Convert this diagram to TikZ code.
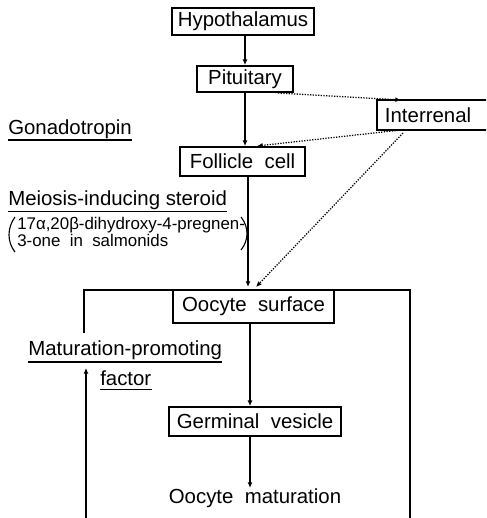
\documentclass[tikz,border=0pt]{standalone}
\usepackage{fontspec}
\setmainfont{Liberation Sans}
\usetikzlibrary{arrows.meta}

\begin{document}
\begin{tikzpicture}[x=0.025cm, y=-0.025cm,
  font=\fontsize{14.5}{17}\selectfont,
  box/.style={draw, line width=1.3pt, inner sep=0pt},
  arr/.style={-{Latex[length=4pt,width=3.5pt]}, line width=1.3pt},
  dotarr/.style={densely dotted, -{Latex[length=4pt,width=3.5pt]}, line width=0.9pt},
  lab/.style={anchor=base west, inner sep=0pt},
  ul/.style={line width=0.9pt}]
  \useasboundingbox (0, 0) rectangle (486, 518);
  \clip (0, 0) rectangle (486, 518);

  % boxes
  \node[box, minimum width=3.55cm, minimum height=0.675cm] (hyp) at (243, 21.5) {Hypothalamus};
  \node[box, minimum width=2.4cm, minimum height=0.65cm] (pit) at (245, 79) {Pituitary};
  \node[box, minimum width=3.1cm, minimum height=0.75cm, text width=2.7cm] (intr) at (439, 115) {Interrenal};
  \node[box, minimum width=3.125cm, minimum height=0.725cm] (fol) at (242.5, 161.5) {Follicle\ \ cell};
  \node[box, minimum width=4.025cm, minimum height=0.825cm] (osf) at (253.5, 306.5) {Oocyte\ \ surface};
  \node[box, minimum width=4.3cm, minimum height=0.725cm] (gv) at (255, 421.5) {Germinal\ \ vesicle};
  \node[inner sep=0pt, anchor=base] (om) at (255, 503) {Oocyte\ \ maturation};

  % labels on the left
  \node[lab] (gon) at (8, 135) {Gonadotropin};
  \node[lab] (mis) at (8, 205) {Meiosis-inducing\ steroid};
  \node[lab, font=\fontsize{12}{11.5}\selectfont, align=left] (ster) at (17, 246)
    {17α,20β-dihydroxy-4-pregnen-\\3-one\ \ in\ \ salmonids};
  \draw[line width=0.8pt] (15, 217) .. controls (7, 228) and (7, 242) .. (15, 252);
  \draw[line width=0.8pt] (241, 217) .. controls (249, 227) and (249, 240) .. (241, 250);
  \node[lab] (mpf) at (28, 355) {Maturation-promoting};
  \node[lab] (fac) at (100, 385) {factor};
  \draw[ul] ([yshift=-3.5pt]gon.base west) -- ([yshift=-3.5pt]gon.base east);
  \draw[ul] ([yshift=-4.5pt]mis.base west) -- ([yshift=-4.5pt]mis.base east);
  \draw[ul] ([yshift=-5pt]mpf.base west) -- ([yshift=-5pt]mpf.base east);
  \draw[ul] ([yshift=-3pt]fac.base west) -- ([yshift=-3pt]fac.base east);

  % main chain
  \coordinate (spine) at (250, 0);
  \draw[arr, line width=1pt] (hyp.south -| pit.north) -- (pit.north);
  \draw[arr] (pit.south) -- (pit.south |- fol.north);
  \draw[arr] (fol.south -| 248, 0) -- (248, 287);
  \draw[arr] (osf.south -| spine) -- (gv.north -| spine);
  \draw[arr] (gv.south -| spine) -- (om.north -| spine);

  % interrenal
  \coordinate (p1) at (278, 93);
  \coordinate (i1) at (401, 100);
  \coordinate (i2) at (401, 130);
  \coordinate (f1) at (257, 146);
  \coordinate (i3) at (403, 133);
  \coordinate (o1) at (256, 287);
  \draw[dotarr] (p1) -- (i1);
  \draw[dotarr] (i2) -- (f1);
  \draw[dotarr] (i3) -- (o1);

  % feedback loop
  \draw[line width=1.3pt] (410, 525) -- (410, 290) -- (84, 290) -- (84, 333);
  \draw[arr] (86, 525) -- (86, 368);
\end{tikzpicture}
\end{document}
